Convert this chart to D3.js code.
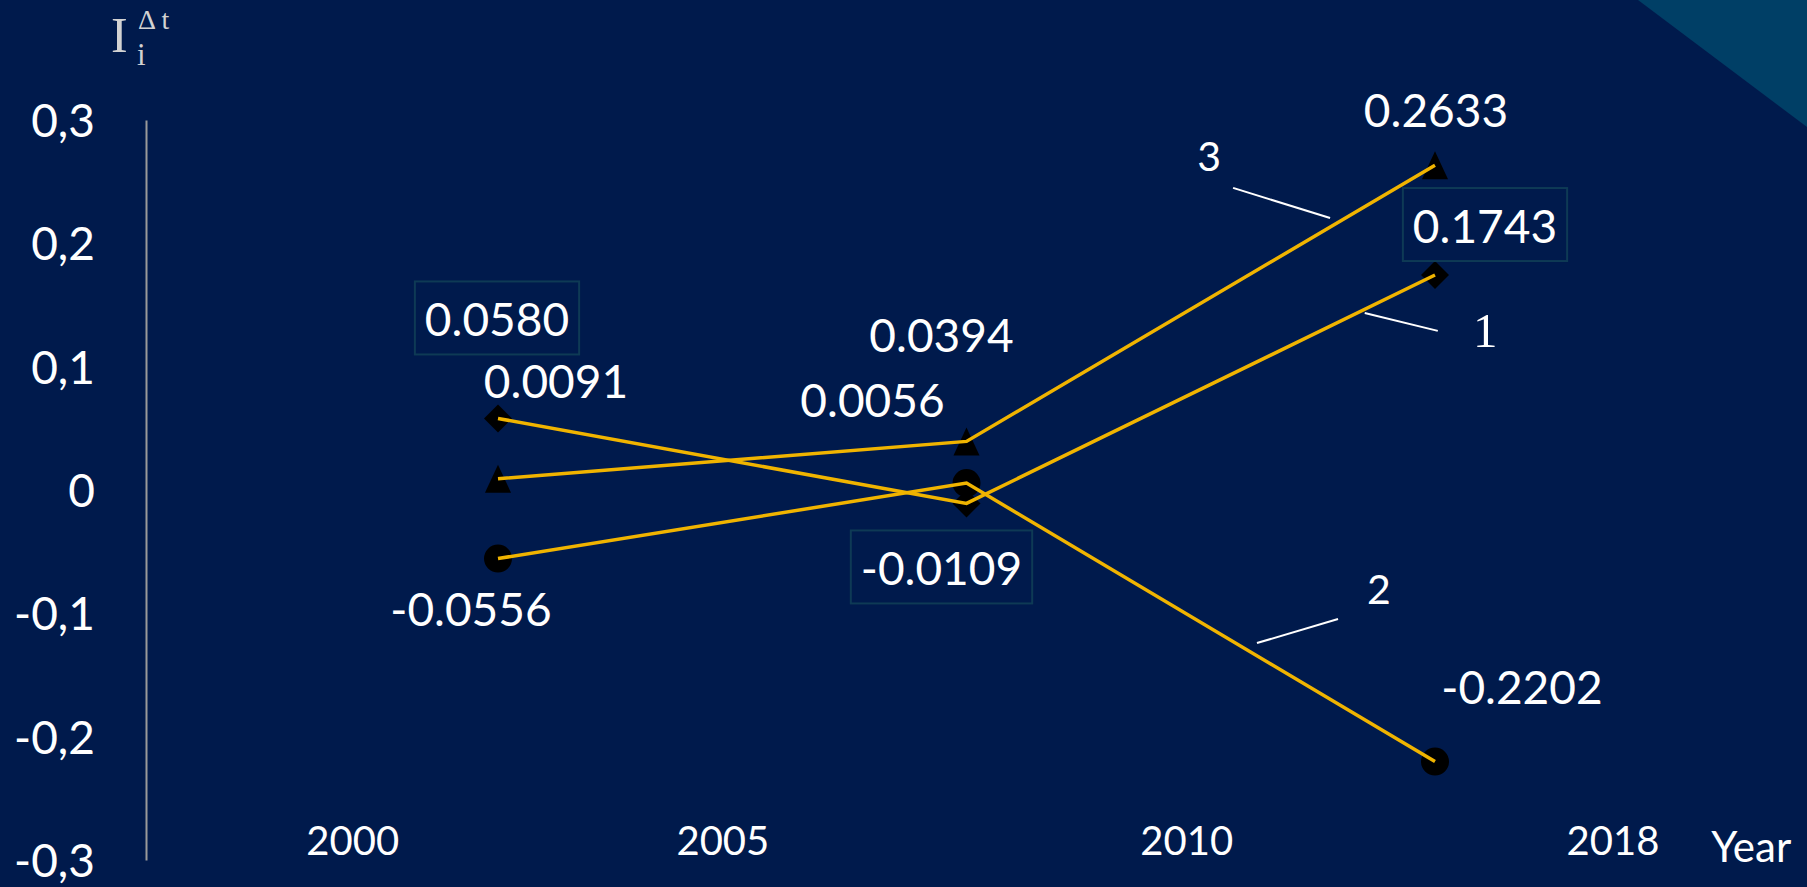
<!DOCTYPE html>
<html><head><meta charset="utf-8">
<script src="https://cdn.jsdelivr.net/npm/d3@7"></script>
<style>html,body{margin:0;padding:0;background:#001a4c;overflow:hidden}</style>
</head><body>
<script>
// ---------- data ----------
const periodIndex = [0, 1, 2];
const series1 = [0.0580, -0.0109, 0.1743];   // diamonds, curve "1"
const series2 = [-0.0556, 0.0056, -0.2202];  // circles, curve "2"
const series3 = [0.0091, 0.0394, 0.2633];    // triangles, curve "3"
const seriesNames = ["1", "2", "3"];
const yTickValues = [0.3, 0.2, 0.1, 0, -0.1, -0.2, -0.3];
const xTickLabels = ["2000", "2005", "2010", "2018"];
const xTickAt = [-0.31, 0.48, 1.47, 2.38];   // tick label position on the period axis
const xAxisTitle = "Year";

// ---------- layout ----------
const W = 1807, H = 887;
const svg = d3.select("body").append("svg").attr("width", W).attr("height", H);
svg.append("rect").attr("width", W).attr("height", H).attr("fill", "#001a4c");
svg.append("polygon").attr("points", "1638,0 1807,0 1807,127").attr("fill", "#003f66");

const x = d3.scaleLinear().domain([0, 2]).range([498, 1435]);
const y = d3.scaleLinear().domain([-0.3, 0.3]).range([860, 120]);

const sans = "Lato, 'Open Sans', sans-serif";
const serif = "'Liberation Serif', 'DejaVu Serif', serif";

// y axis
const yAxis = d3.axisLeft(y).tickValues(yTickValues).tickSize(0).tickPadding(51)
  .tickFormat(d => d === 0 ? "0" : d.toFixed(1).replace(".", ","));
const ga = svg.append("g").attr("transform", `translate(146,0)`).call(yAxis);
ga.select(".domain").attr("stroke", "#9a9a9a").attr("stroke-width", 2);
ga.selectAll("text").attr("fill", "#ffffff").attr("font-family", sans)
  .attr("font-size", 46).attr("dy", "0.36em");

// axis title I_i^{Δt}
const tt = svg.append("g").attr("fill", "#d2d2d2").attr("font-family", serif);
tt.append("text").attr("x", 111).attr("y", 52).attr("font-size", 50).text("I");
tt.append("text").attr("x", 138).attr("y", 29).attr("font-size", 28).text("Δ t");
tt.append("text").attr("x", 137).attr("y", 65).attr("font-size", 31).text("i");

// x tick labels
svg.append("g").selectAll("text").data(xTickLabels).join("text")
  .attr("x", (d, i) => x(xTickAt[i])).attr("y", 855)
  .attr("text-anchor", "middle").attr("fill", "#fff")
  .attr("font-family", sans).attr("font-size", 40).text(d => d);
svg.append("text").attr("x", x(2.675)).attr("y", 862).attr("text-anchor", "middle")
  .attr("fill", "#fff").attr("font-family", sans).attr("font-size", 42).text(xAxisTitle);

// ---------- series ----------
const triType = {draw(ctx, size) {
  const h = Math.sqrt(size), w = h * 0.93;
  ctx.moveTo(0, -h / 2); ctx.lineTo(w / 2, h / 2); ctx.lineTo(-w / 2, h / 2); ctx.closePath();
}};
const seriesList = [
  {name: seriesNames[0], values: series1, symbol: d3.symbolSquare, size: 392, rotate: 45,
   labels: [[-1, -99, true], [-25, 65, true], [50, -49, true]]},
  {name: seriesNames[1], values: series2, symbol: d3.symbolCircle, size: 616, rotate: 0,
   labels: [[-27, 51, false], [-94, -83, false], [87, -74, false]]},
  {name: seriesNames[2], values: series3, symbol: triType, size: 784, rotate: 0,
   labels: [[58, -97, false], [-25, -106, false], [1, -55, false]]}
];

const markers = svg.append("g");
seriesList.forEach(s => {
  markers.selectAll(null).data(s.values).join("path")
    .attr("d", d3.symbol().type(s.symbol).size(s.size))
    .attr("transform", (d, i) => `translate(${x(periodIndex[i])},${y(d)}) rotate(${s.rotate})`)
    .attr("fill", "#000");
});

const line = d3.line().x((d, i) => x(periodIndex[i])).y(d => y(d));
const lines = svg.append("g");
seriesList.forEach(s => {
  lines.append("path").datum(s.values).attr("d", line)
    .attr("fill", "none").attr("stroke", "#f0b400").attr("stroke-width", 3.5)
    .attr("stroke-linejoin", "miter");
});

// value labels
const labs = svg.append("g");
seriesList.forEach(s => {
  s.values.forEach((v, i) => {
    const [dx, dy, boxed] = s.labels[i];
    const cx = x(periodIndex[i]) + dx, cy = y(v) + dy;
    const t = labs.append("text").attr("x", cx).attr("y", cy + 46 * 0.36)
      .attr("text-anchor", "middle").attr("fill", "#fff")
      .attr("font-family", sans).attr("font-size", 46).text(v.toFixed(4));
    if (boxed) {
      const bw = t.node().getBBox().width + 20;
      labs.insert("rect", ":first-child").attr("x", cx - bw / 2).attr("y", cy - 38)
        .attr("width", bw).attr("height", 73).attr("fill", "none")
        .attr("stroke", "#0e3a55").attr("stroke-width", 2);
    }
  });
});

// curve number annotations (in data space: period index, value)
const notes = [
  {name: seriesNames[2], label: [1.518, 0.270], from: [1.569, 0.245], to: [1.776, 0.2205], font: sans, fs: 41},
  {name: seriesNames[0], label: [2.107, 0.1297], from: [2.006, 0.129], to: [1.850, 0.1435], font: serif, fs: 49},
  {name: seriesNames[1], label: [1.880, -0.0811], from: [1.793, -0.1046], to: [1.620, -0.1241], font: sans, fs: 41}
];
const ann = svg.append("g");
notes.forEach(n => {
  ann.append("line").attr("x1", x(n.from[0])).attr("y1", y(n.from[1]))
    .attr("x2", x(n.to[0])).attr("y2", y(n.to[1]))
    .attr("stroke", "#fff").attr("stroke-width", 2);
  ann.append("text").attr("x", x(n.label[0])).attr("y", y(n.label[1]) + n.fs * 0.34)
    .attr("text-anchor", "middle").attr("fill", "#fff")
    .attr("font-family", n.font).attr("font-size", n.fs).text(n.name);
});
</script>
</body></html>
